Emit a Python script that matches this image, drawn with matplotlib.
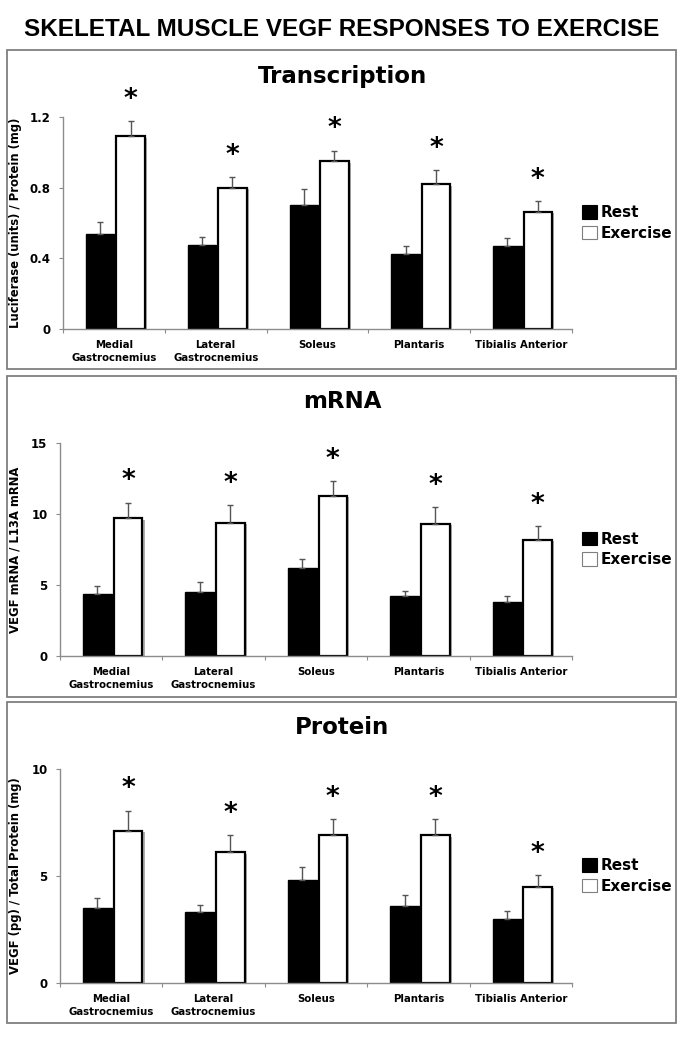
import matplotlib
matplotlib.use("Agg")
import matplotlib.pyplot as plt
import matplotlib.patheffects as pe
from matplotlib.patches import Rectangle
import numpy as np

muscles = ["Medial\nGastrocnemius", "Lateral\nGastrocnemius", "Soleus", "Plantaris", "Tibialis Anterior"]

# Transcription (luciferase / protein)
trans_rest = [0.54, 0.475, 0.70, 0.425, 0.47]
trans_rest_err = [0.065, 0.045, 0.09, 0.045, 0.045]
trans_ex = [1.09, 0.80, 0.95, 0.82, 0.665]
trans_ex_err = [0.085, 0.06, 0.06, 0.08, 0.06]

# mRNA (VEGF / L13A)
mrna_rest = [4.4, 4.5, 6.2, 4.2, 3.8]
mrna_rest_err = [0.55, 0.7, 0.65, 0.4, 0.45]
mrna_ex = [9.7, 9.4, 11.3, 9.3, 8.2]
mrna_ex_err = [1.1, 1.2, 1.0, 1.2, 0.95]

# Protein (VEGF pg / total protein mg)
prot_rest = [3.5, 3.3, 4.8, 3.6, 3.0]
prot_rest_err = [0.45, 0.35, 0.6, 0.5, 0.35]
prot_ex = [7.1, 6.1, 6.9, 6.9, 4.5]
prot_ex_err = [0.95, 0.8, 0.75, 0.75, 0.55]

panels = [
    ("Transcription", "Luciferase (units) / Protein (mg)", trans_rest, trans_rest_err,
     trans_ex, trans_ex_err, [0, 0.4, 0.8, 1.2], ["0", "0.4", "0.8", "1.2"]),
    ("mRNA", "VEGF mRNA / L13A mRNA", mrna_rest, mrna_rest_err,
     mrna_ex, mrna_ex_err, [0, 5, 10, 15], ["0", "5", "10", "15"]),
    ("Protein", "VEGF (pg) / Total Protein (mg)", prot_rest, prot_rest_err,
     prot_ex, prot_ex_err, [0, 5, 10], ["0", "5", "10"]),
]

W, H = 684, 1050
fig = plt.figure(figsize=(W / 100, H / 100), dpi=100)
plt.rcParams["font.family"] = "DejaVu Sans"

fig.text(0.5, 1 - 30 / H, "SKELETAL MUSCLE VEGF RESPONSES TO EXERCISE",
         ha="center", va="center", fontsize=17.5, fontweight="bold",
         family="Liberation Sans")

# pixel layout: (box top, box bottom, axes left, axes top, axes bottom)
layout = [(50, 369, 63, 117, 329), (376, 697, 60, 443, 656), (702, 1023, 60, 769, 983)]
gray = "#8c8c8c"
shadow = [pe.SimplePatchShadow(offset=(1.5, -1.0), shadow_rgbFace="#9a9a9a", alpha=0.8), pe.Normal()]

for (title, ylab, rest, rest_err, ex, ex_err, yt, ytl), (bt, bb, al, at, ab) in zip(panels, layout):
    fig.add_artist(Rectangle((7 / W, 1 - bb / H), 669 / W, (bb - bt) / H,
                             transform=fig.transFigure, fill=False, ec="#7f7f7f", lw=1.3))
    fig.text(0.5, 1 - (bt + 26) / H, title, ha="center", va="center",
             fontsize=16.5, fontweight="bold")

    ax = fig.add_axes([al / W, 1 - ab / H, (572 - al) / W, (ab - at) / H])
    x = np.arange(len(muscles))
    w = 0.28
    b1 = ax.bar(x - 0.135, rest, w, color="black", edgecolor="black", lw=1.0, zorder=2)
    b2 = ax.bar(x + 0.165, ex, w, color="white", edgecolor="black", lw=1.6, zorder=2)
    for b in list(b1) + list(b2):
        b.set_path_effects(shadow)
    ax.errorbar(x - 0.135, rest, yerr=[np.zeros(len(rest)), rest_err], fmt="none",
                ecolor="#555555", elinewidth=1.0, capsize=2.5, capthick=1.0, zorder=3)
    ax.errorbar(x + 0.165, ex, yerr=[np.zeros(len(ex)), ex_err], fmt="none",
                ecolor="#555555", elinewidth=1.0, capsize=2.5, capthick=1.0, zorder=3)
    tops = np.array(ex) + np.array(ex_err)
    for xi, t in zip(x, tops):
        ax.annotate("*", xy=(xi + 0.165, t), xytext=(0, 6), textcoords="offset points",
                    ha="center", va="bottom", fontsize=19, fontweight="bold")

    ax.set_xlim(-0.5, len(muscles) - 0.5)
    ax.set_ylim(yt[0], yt[-1])
    ax.set_yticks(yt)
    ax.set_yticklabels(ytl, fontsize=8.5, fontweight="bold")
    ax.set_xticks(np.arange(len(muscles) + 1) - 0.5)
    ax.set_xticklabels([])
    ax.set_xticks(x, muscles, minor=True)
    for lab in ax.get_xticklabels(minor=True):
        lab.set_fontsize(7.3)
        lab.set_fontweight("bold")
        lab.set_linespacing(1.3)
    ax.tick_params(axis="x", which="minor", length=0, pad=8)
    ax.tick_params(axis="x", which="major", length=3, color=gray, direction="out")
    ax.tick_params(axis="y", length=3, color=gray, direction="out", pad=6)
    for s in ["top", "right"]:
        ax.spines[s].set_visible(False)
    for s in ["left", "bottom"]:
        ax.spines[s].set_color(gray)
        ax.spines[s].set_linewidth(1.0)
    ax.set_ylabel(ylab, fontsize=8.4, fontweight="bold")
    ax.yaxis.set_label_coords((22 - al) / (572 - al), 0.5)

    leg = ax.legend([b1[0], b2[0]], ["Rest", "Exercise"], loc="center left",
                    bbox_to_anchor=(1 + 10 / (572 - al), 0.5), frameon=False,
                    prop={"size": 11, "weight": "bold"}, handlelength=1.0, handleheight=1.0,
                    handletextpad=0.2, labelspacing=0.35, borderpad=0, borderaxespad=0)
    for h in leg.legend_handles:
        h.set_path_effects([])
        h.set_linewidth(0.8)
        h.set_edgecolor("#7f7f7f" if h.get_facecolor()[0] > 0.5 else "black")

fig.savefig("out.png", dpi=100, facecolor="white")
